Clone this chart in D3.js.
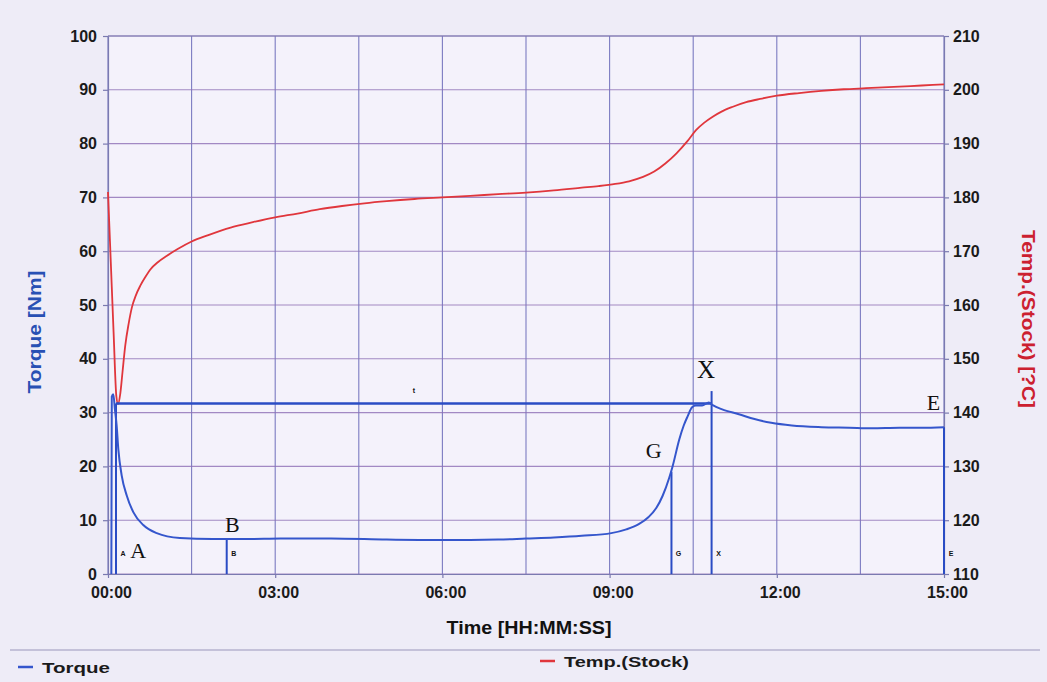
<!DOCTYPE html>
<html><head><meta charset="utf-8">
<script src="https://cdn.jsdelivr.net/npm/d3@7"></script>
<style>
html,body{margin:0;padding:0;background:#eeecf7;}
svg{display:block;}
</style></head><body>
<svg id="chart" width="1047" height="682"></svg>
<script>
// ---- data (time in minutes) ----
const torqueTime  = [0.06,0.068,0.095,0.125,0.156,0.185,0.246,0.336,0.454,0.633,0.874,1.29,1.88,2.5,3.1,4.0,5.0,6.0,7.0,7.5,8.0,8.5,9.03,9.3,9.53,9.7,9.84,9.95,10.07,10.13,10.25,10.33,10.4,10.48,10.55,10.66,10.78,10.85,11.02,11.32,11.6,11.9,12.27,12.8,13.3,13.7,14.2,14.6,15.0];
const torqueValue = [0,33.0,33.4,30.5,27.5,23.2,18.3,14.6,11.5,9.1,7.6,6.7,6.5,6.5,6.6,6.6,6.4,6.3,6.4,6.6,6.8,7.1,7.6,8.3,9.3,10.6,12.3,14.5,17.9,20.0,25.0,27.6,29.3,31.0,31.3,31.3,31.9,31.4,30.6,29.7,28.8,28.1,27.6,27.3,27.2,27.1,27.2,27.2,27.3];
const tempTime  = [0,0.05,0.1,0.15,0.18,0.22,0.26,0.31,0.37,0.43,0.5,0.58,0.67,0.76,0.9,1.05,1.25,1.5,1.8,2.2,2.6,3.0,3.4,3.8,4.2,4.6,5.0,5.5,6.0,6.5,7.0,7.5,8.0,8.5,8.8,9.1,9.35,9.6,9.8,10.0,10.2,10.4,10.55,10.7,10.85,11.0,11.2,11.45,11.7,12.0,12.4,12.8,13.2,13.6,14.0,14.4,14.8,15.0];
const tempValue = [181,168,155,143,141.6,143.5,147.5,152.5,156.5,159.6,161.8,163.6,165.2,166.6,168.0,169.1,170.4,171.8,173.0,174.4,175.4,176.3,177.0,177.8,178.4,178.9,179.3,179.7,180.0,180.3,180.6,180.9,181.3,181.8,182.1,182.5,183.0,183.8,184.8,186.3,188.2,190.5,192.5,193.9,195.0,195.9,196.8,197.7,198.3,198.9,199.4,199.8,200.1,200.3,200.5,200.7,200.9,201.0];

const markerLabels = ["A","B","G","X","E"];
const markerTime   = [0.144,2.13,10.11,10.83,15.0];
const markerTop    = [31.7,6.5,19.0,34.0,27.3];
const refLineTime  = [0.144,10.83];
const refLineValue = [31.7,31.7];

const noteLabels = ["A","B","G","X","E"];
const noteTime   = [0.54,2.23,9.79,10.73,14.81];
const noteValue  = [3.0,7.8,21.6,36.4,30.5];
const smallNoteLabels = ["t"];
const smallNoteTime   = [5.49];
const smallNoteValue  = [33.6];

const torqueTicks = [0,10,20,30,40,50,60,70,80,90,100];
const tempTicks   = [110,120,130,140,150,160,170,180,190,200,210];
const timeTicks   = [0,3,6,9,12,15];
const timeTickLabels = ["00:00","03:00","06:00","09:00","12:00","15:00"];
const gridTimes   = [0,1.5,3,4.5,6,7.5,9,10.5,12,13.5,15];

const seriesNames = ["Torque","Temp.(Stock)"];

// ---- layout ----
const L = 108, R = 944, T = 36, B = 574;
const svg = d3.select("#chart");
const x  = d3.scaleLinear().domain([0,15]).range([L,R]);
const yL = d3.scaleLinear().domain([0,100]).range([B,T]);
const yR = d3.scaleLinear().domain([110,210]).range([B,T]);

const BLUE = "#3556cc", RED = "#e0363c";
const FONT = "'Liberation Sans', Arial, sans-serif";

svg.append("rect").attr("width",1047).attr("height",682).attr("fill","#eeecf7");
svg.append("rect").attr("x",L).attr("y",T).attr("width",R-L).attr("height",B-T).attr("fill","#f4f2fb");

// grid
svg.append("g").selectAll("line").data(gridTimes).join("line")
  .attr("x1",d=>x(d)).attr("x2",d=>x(d)).attr("y1",T).attr("y2",B)
  .attr("stroke","#5e5eb4").attr("stroke-width",1.1).attr("opacity",0.8);
svg.append("g").selectAll("line").data(torqueTicks).join("line")
  .attr("x1",L).attr("x2",R).attr("y1",d=>yL(d)).attr("y2",d=>yL(d))
  .attr("stroke","#8e70b6").attr("stroke-width",1.1).attr("opacity",0.8);

// axes
function styleAxis(g){
  g.select(".domain").attr("stroke","#7a7ab0").attr("stroke-width",1.2);
  g.selectAll(".tick line").attr("stroke","#7a7ab0").attr("stroke-width",1.2);
  g.selectAll(".tick text").attr("fill","#1a1a1a").attr("font-family",FONT)
    .attr("font-weight","bold").attr("font-size","16px");
}
svg.append("g").attr("transform",`translate(${L},0)`)
  .call(d3.axisLeft(yL).tickValues(torqueTicks).tickSize(5).tickPadding(6).tickSizeOuter(0))
  .call(styleAxis);
svg.append("g").attr("transform",`translate(${R},0)`)
  .call(d3.axisRight(yR).tickValues(tempTicks).tickSize(5).tickPadding(4).tickSizeOuter(0))
  .call(styleAxis);
svg.append("g").attr("transform",`translate(0,${B})`)
  .call(d3.axisBottom(x).tickValues(timeTicks).tickFormat((d,i)=>timeTickLabels[i]).tickSize(4).tickPadding(9).tickSizeOuter(0))
  .call(styleAxis)
  .call(g=>g.selectAll(".tick text").attr("dx","3"));
svg.append("line").attr("x1",L).attr("x2",R).attr("y1",T).attr("y2",T)
  .attr("stroke","#7a7ab0").attr("stroke-width",1.2);

// temperature line
const tempData = tempTime.map((t,i)=>[t,tempValue[i]]);
svg.append("path").datum(tempData)
  .attr("d",d3.line().x(d=>x(d[0])).y(d=>yR(d[1])).curve(d3.curveMonotoneX))
  .attr("fill","none").attr("stroke",RED).attr("stroke-width",1.8);

// reference line
const refData = refLineTime.map((t,i)=>[t,refLineValue[i]]);
svg.append("path").datum(refData)
  .attr("d",d3.line().x(d=>x(d[0])).y(d=>yL(d[1])))
  .attr("fill","none").attr("stroke","#2a4cc4").attr("stroke-width",2.4);

// marker verticals
svg.append("g").selectAll("line").data(markerTime).join("line")
  .attr("x1",d=>x(d)).attr("x2",d=>x(d)).attr("y1",yL(0)).attr("y2",(d,i)=>yL(markerTop[i]))
  .attr("stroke","#2a4cc4").attr("stroke-width",2);

// torque line
const torqueData = torqueTime.map((t,i)=>[t,torqueValue[i]]);
svg.append("path").datum(torqueData)
  .attr("d",d3.line().x(d=>x(d[0])).y(d=>yL(d[1])).curve(d3.curveMonotoneX))
  .attr("fill","none").attr("stroke",BLUE).attr("stroke-width",2);

// tiny marker labels
svg.append("g").selectAll("text").data(markerLabels).join("text")
  .attr("x",(d,i)=>x(markerTime[i])+7).attr("y",yL(3.4))
  .attr("font-family",FONT).attr("font-weight","bold").attr("font-size","7px")
  .attr("fill","#111").attr("text-anchor","middle").text(d=>d);
svg.append("g").selectAll("text").data(smallNoteLabels).join("text")
  .attr("x",(d,i)=>x(smallNoteTime[i])).attr("y",(d,i)=>yL(smallNoteValue[i]))
  .attr("font-family",FONT).attr("font-weight","bold").attr("font-size","7px")
  .attr("fill","#111").attr("text-anchor","middle").text(d=>d);

// big serif labels
svg.append("g").selectAll("text").data(noteLabels).join("text")
  .attr("x",(d,i)=>x(noteTime[i])).attr("y",(d,i)=>yL(noteValue[i]))
  .attr("font-family","'Liberation Serif','Times New Roman',serif")
  .attr("font-size",d=>d==="X"?"25px":"22px")
  .attr("fill","#111").attr("text-anchor","middle").text(d=>d);

// axis titles
svg.append("text").attr("x",529).attr("y",634).attr("text-anchor","middle")
  .attr("font-family",FONT).attr("font-weight","bold").attr("font-size","18px")
  .attr("fill","#111").attr("textLength",165).attr("lengthAdjust","spacingAndGlyphs")
  .text("Time [HH:MM:SS]");
svg.append("text").attr("transform","translate(41,332) rotate(-90)").attr("text-anchor","middle")
  .attr("font-family",FONT).attr("font-weight","bold").attr("font-size","18px")
  .attr("fill","#2850b4").attr("textLength",123).attr("lengthAdjust","spacingAndGlyphs")
  .text("Torque [Nm]");
svg.append("text").attr("transform","translate(1022,319) rotate(90)").attr("text-anchor","middle")
  .attr("font-family",FONT).attr("font-weight","bold").attr("font-size","18px")
  .attr("fill","#cc2030").attr("textLength",178).attr("lengthAdjust","spacingAndGlyphs")
  .text("Temp.(Stock) [?C]");

// legend
svg.append("line").attr("x1",10).attr("x2",1040).attr("y1",650).attr("y2",650)
  .attr("stroke","#9a96bc").attr("stroke-width",1.2);
const legendColors = [BLUE, RED];
const legendX = [18, 540];
const legendY = [667, 661];
const legendW = [68, 125];
const lg = svg.append("g").selectAll("g").data(seriesNames).join("g");
lg.append("line").attr("x1",(d,i)=>legendX[i]).attr("x2",(d,i)=>legendX[i]+15)
  .attr("y1",(d,i)=>legendY[i]).attr("y2",(d,i)=>legendY[i])
  .attr("stroke",(d,i)=>legendColors[i]).attr("stroke-width",2.5);
lg.append("text").attr("x",(d,i)=>legendX[i]+24).attr("y",(d,i)=>legendY[i]+6)
  .attr("font-family",FONT).attr("font-weight","bold").attr("font-size","15px")
  .attr("fill","#1a1a1a").attr("textLength",(d,i)=>legendW[i]).attr("lengthAdjust","spacingAndGlyphs")
  .text(d=>d);
</script>
</body></html>
